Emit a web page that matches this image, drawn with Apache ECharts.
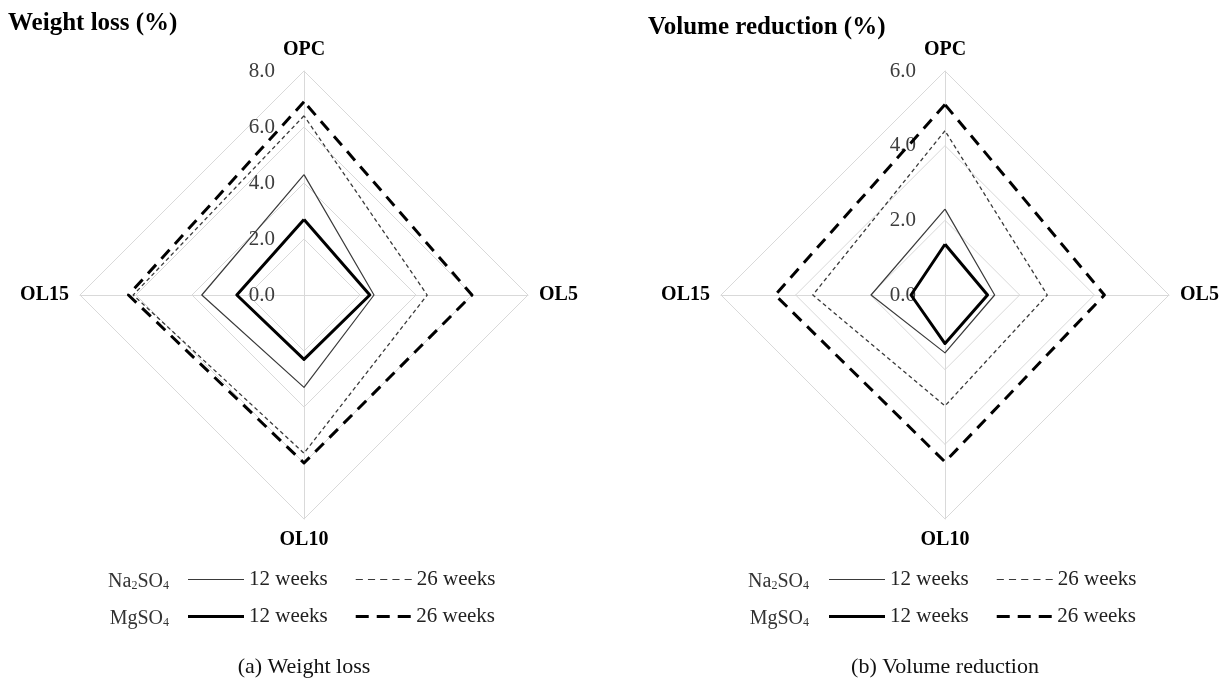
<!DOCTYPE html>
<html><head><meta charset="utf-8">
<script src="https://cdn.jsdelivr.net/npm/echarts@6/dist/echarts.min.js"></script>
<style>html,body{margin:0;padding:0;background:#fff}#c{width:1227px;height:682px}</style>
</head><body><div id="c"></div>
<script>
// Indicators in drawing order (radar places them counter-clockwise starting at the top)
const categories = ['OPC', 'OL15', 'OL10', 'OL5'];
const weightMax = 8;
const volumeMax = 6;
const weightSplits = 4;
const volumeSplits = 3;
// Weight loss (%)  order: OPC, OL15, OL10, OL5
const wNa12 = [4.3, 3.65, 3.3, 2.5];
const wNa26 = [6.4, 6.1, 5.65, 4.4];
const wMg12 = [2.7, 2.4, 2.3, 2.35];
const wMg26 = [6.9, 6.27, 6.0, 6.0];
// Volume reduction (%)  order: OPC, OL15, OL10, OL5
const vNa12 = [2.3, 1.98, 1.55, 1.33];
const vNa26 = [4.4, 3.54, 2.97, 2.74];
const vMg12 = [1.36, 0.91, 1.3, 1.14];
const vMg26 = [5.1, 4.55, 4.47, 4.27];
// legend / series names
const nNa12 = 'Na₂SO₄ 12 weeks';
const nNa26 = 'Na₂SO₄ 26 weeks';
const nMg12 = 'MgSO₄ 12 weeks';
const nMg26 = 'MgSO₄ 26 weeks';
const titleA = 'Weight loss (%)';
const titleB = 'Volume reduction (%)';
const captionA = '(a) Weight loss';
const captionB = '(b) Volume reduction';

const F = "'Liberation Serif','Times New Roman',serif";
const styles = {};
styles[nNa12] = {color: '#3a3a3a', width: 1.2, type: 'solid'};
styles[nNa26] = {color: '#3a3a3a', width: 1.3, type: [4, 3]};
styles[nMg12] = {color: '#000', width: 3, type: 'solid'};
styles[nMg26] = {color: '#000', width: 3, type: [12, 8]};

function makeRadar(cx, max, splits) {
  return {
    center: [cx, 295], radius: 224, startAngle: 90, splitNumber: splits, shape: 'polygon',
    indicator: categories.map((n, i) => ({
      name: n, min: 0, max: max,
      axisLabel: i === 0 ? {show: true, formatter: v => Number(v).toFixed(1), color: '#3d3d3d',
        fontFamily: F, fontSize: 21, margin: 29} : {show: false}
    })),
    axisName: {color: '#000', fontFamily: F, fontWeight: 'bold', fontSize: 20},
    nameGap: 11,
    splitLine: {lineStyle: {color: '#d9d9d9', width: 1}},
    splitArea: {show: false},
    axisLine: {lineStyle: {color: '#d9d9d9', width: 1}},
    axisTick: {show: false}
  };
}
function makeSeries(idx, sets) {
  return {
    type: 'radar', radarIndex: idx, symbol: 'none', silent: true,
    data: sets.map(([name, vals]) => ({name: name, value: vals, lineStyle: styles[name],
      itemStyle: {color: styles[name].color}}))
  };
}
const thinDash = 'path://M0,0H7V1H0Z M12,0H19V1H12Z M24,0H31V1H24Z M36,0H43V1H36Z M48,0H55V1H48Z';
const thickDash = 'path://M0,0H13V3H0Z M21,0H34V3H21Z M42,0H55V3H42Z';
function makeLegend(left, top, items, h) {
  return {
    left: left, top: top, orient: 'horizontal', itemWidth: 56, itemHeight: h, itemGap: 28,
    padding: 0, selectedMode: false,
    data: items.map(([name, icon]) => ({name: name, icon: icon,
      itemStyle: {color: styles[name].color, borderWidth: 0}})),
    formatter: n => n.replace(/^\S+ /, ''),
    textStyle: {fontFamily: F, fontSize: 21, color: '#222'}
  };
}
function rowLabel(x, y, base1, sub1, base2, sub2) {
  return {type: 'text', x: x, y: y, style: {
    text: '{a|' + base1 + '}{s|' + sub1 + '}{a|' + base2 + '}{s|' + sub2 + '}',
    align: 'right', verticalAlign: 'middle',
    rich: {a: {fontFamily: F, fontSize: 20, fill: '#333', lineHeight: 22, verticalAlign: 'bottom'},
           s: {fontFamily: F, fontSize: 12, fill: '#333', lineHeight: 22, verticalAlign: 'bottom'}}
  }};
}
const cxA = 304, cxB = 945;
const option = {
  backgroundColor: '#fff',
  animation: false,
  title: [
    {text: titleA, left: 8, top: 11, padding: 0, textStyle: {fontFamily: F, fontWeight: 'bold', fontSize: 25, color: '#000'}},
    {text: titleB, left: 648, top: 15, padding: 0, textStyle: {fontFamily: F, fontWeight: 'bold', fontSize: 25, color: '#000'}}
  ],
  radar: [makeRadar(cxA, weightMax, weightSplits), makeRadar(cxB, volumeMax, volumeSplits)],
  legend: [
    makeLegend(cxA - 116, 569, [[nNa12, 'rect'], [nNa26, thinDash]], 1.2),
    makeLegend(cxA - 116, 606, [[nMg12, 'rect'], [nMg26, thickDash]], 3),
    makeLegend(cxB - 116, 569, [[nNa12, 'rect'], [nNa26, thinDash]], 1.2),
    makeLegend(cxB - 116, 606, [[nMg12, 'rect'], [nMg26, thickDash]], 3)
  ],
  graphic: [
    rowLabel(cxA - 135, 581, 'Na', '2', 'SO', '4'),
    rowLabel(cxA - 135, 618, 'MgSO', '4', '', ''),
    rowLabel(cxB - 136, 581, 'Na', '2', 'SO', '4'),
    rowLabel(cxB - 136, 618, 'MgSO', '4', '', ''),
    {type: 'text', x: cxA, y: 667, style: {text: captionA, align: 'center', verticalAlign: 'middle', fontFamily: F, fontSize: 22, fill: '#111'}},
    {type: 'text', x: cxB, y: 667, style: {text: captionB, align: 'center', verticalAlign: 'middle', fontFamily: F, fontSize: 22, fill: '#111'}}
  ],
  series: [
    makeSeries(0, [[nNa12, wNa12], [nNa26, wNa26], [nMg12, wMg12], [nMg26, wMg26]]),
    makeSeries(1, [[nNa12, vNa12], [nNa26, vNa26], [nMg12, vMg12], [nMg26, vMg26]])
  ]
};
const chart = echarts.init(document.getElementById('c'), null, {renderer: 'canvas'});
chart.setOption(option);
</script>
</body></html>
